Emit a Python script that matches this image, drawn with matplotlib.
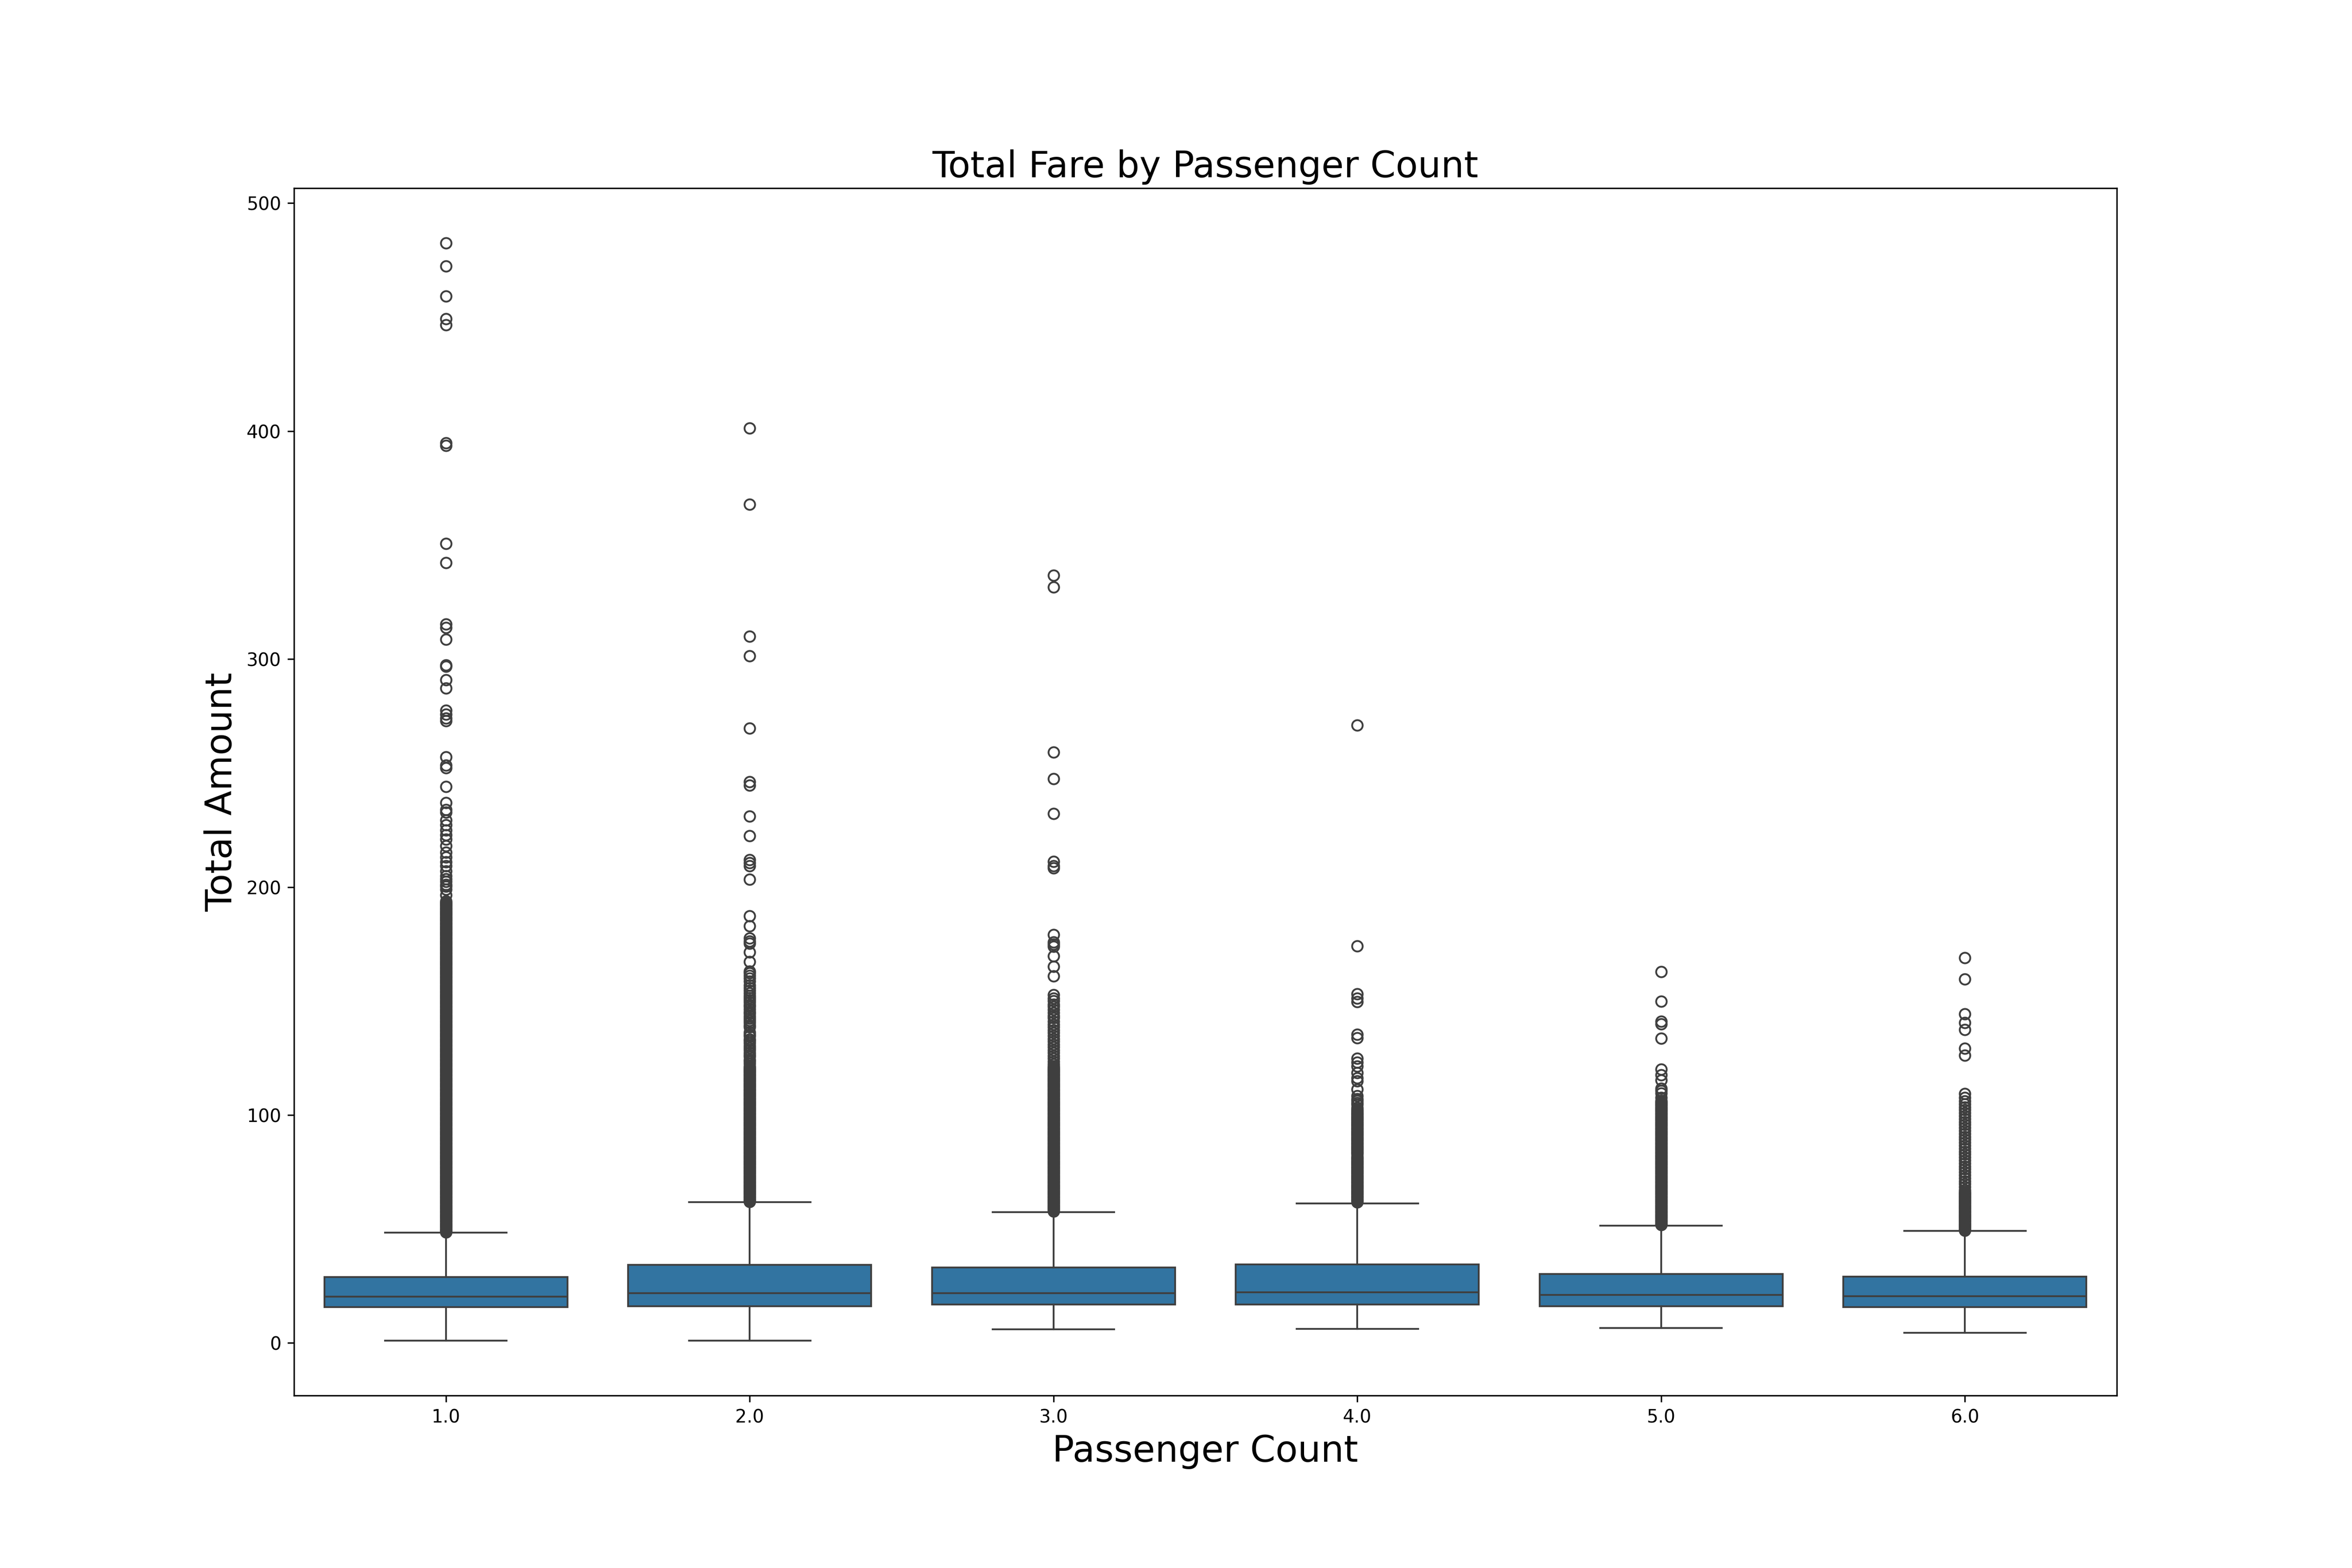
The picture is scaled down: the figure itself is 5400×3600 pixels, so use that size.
import matplotlib
matplotlib.use("Agg")
import matplotlib.pyplot as plt

categories = ["1.0", "2.0", "3.0", "4.0", "5.0", "6.0"]

q1 = [15.7, 16.0, 16.9, 16.8, 16.1, 15.8]
median = [20.3, 21.9, 21.9, 22.2, 21.0, 20.5]
q3 = [28.9, 34.3, 33.1, 34.5, 30.2, 29.0]
whisker_low = [1.0, 1.0, 6.0, 6.2, 6.5, 4.4]
whisker_high = [48.4, 61.7, 57.4, 61.2, 51.4, 49.1]

fliers_1 = [
    482.5, 472.3, 459.2, 449.3, 446.6, 394.8, 393.6, 350.7, 342.2, 315.4,
    313.7, 308.6, 297.3, 296.8, 290.9, 287.2, 277.4, 275.7, 274.1, 272.9,
    257.0, 253.5, 252.2, 244.0, 236.9, 233.9, 232.7, 229.3, 227.2, 224.9,
    222.8, 221.0, 218.1, 215.1, 213.0, 210.9, 209.2, 207.0, 204.8, 203.5,
    202.3, 201.1, 200.2, 199.0, 196.4,
    193.8, 193.3, 192.8, 192.3, 191.8, 191.3, 190.8, 190.3, 189.8, 189.3,
    188.8, 188.3, 187.8, 187.3, 186.8, 186.3, 185.8, 185.3, 184.8, 184.3,
    183.8, 183.3, 182.8, 182.3, 181.8, 181.3, 180.8, 180.3, 179.8, 179.3,
    178.8, 178.3, 177.8, 177.3, 176.8, 176.3, 175.8, 175.3, 174.8, 174.3,
    173.8, 173.3, 172.8, 172.3, 171.8, 171.3, 170.8, 170.3, 169.8, 169.3,
    168.8, 168.3, 167.8, 167.3, 166.8, 166.3, 165.8, 165.3, 164.8, 164.3,
    163.8, 163.3, 162.8, 162.3, 161.8, 161.3, 160.8, 160.3, 159.8, 159.3,
    158.8, 158.3, 157.8, 157.3, 156.8, 156.3, 155.8, 155.3, 154.8, 154.3,
    153.8, 153.3, 152.8, 152.3, 151.8, 151.3, 150.8, 150.3, 149.8, 149.3,
    148.8, 148.3, 147.8, 147.3, 146.8, 146.3, 145.8, 145.3, 144.8, 144.3,
    143.8, 143.3, 142.8, 142.3, 141.8, 141.3, 140.8, 140.3, 139.8, 139.3,
    138.8, 138.3, 137.8, 137.3, 136.8, 136.3, 135.8, 135.3, 134.8, 134.3,
    133.8, 133.3, 132.8, 132.3, 131.8, 131.3, 130.8, 130.3, 129.8, 129.3,
    128.8, 128.3, 127.8, 127.3, 126.8, 126.3, 125.8, 125.3, 124.8, 124.3,
    123.8, 123.3, 122.8, 122.3, 121.8, 121.3, 120.8, 120.3, 119.8, 119.3,
    118.8, 118.3, 117.8, 117.3, 116.8, 116.3, 115.8, 115.3, 114.8, 114.3,
    113.8, 113.3, 112.8, 112.3, 111.8, 111.3, 110.8, 110.3, 109.8, 109.3,
    108.8, 108.3, 107.8, 107.3, 106.8, 106.3, 105.8, 105.3, 104.8, 104.3,
    103.8, 103.3, 102.8, 102.3, 101.8, 101.3, 100.8, 100.3, 99.8, 99.3,
    98.8, 98.3, 97.8, 97.3, 96.8, 96.3, 95.8, 95.3, 94.8, 94.3,
    93.8, 93.3, 92.8, 92.3, 91.8, 91.3, 90.8, 90.3, 89.8, 89.3,
    88.8, 88.3, 87.8, 87.3, 86.8, 86.3, 85.8, 85.3, 84.8, 84.3,
    83.8, 83.3, 82.8, 82.3, 81.8, 81.3, 80.8, 80.3, 79.8, 79.3,
    78.8, 78.3, 77.8, 77.3, 76.8, 76.3, 75.8, 75.3, 74.8, 74.3,
    73.8, 73.3, 72.8, 72.3, 71.8, 71.3, 70.8, 70.3, 69.8, 69.3,
    68.8, 68.3, 67.8, 67.3, 66.8, 66.3, 65.8, 65.3, 64.8, 64.3,
    63.8, 63.3, 62.8, 62.3, 61.8, 61.3, 60.8, 60.3, 59.8, 59.3,
    58.8, 58.3, 57.8, 57.3, 56.8, 56.3, 55.8, 55.3, 54.8, 54.3,
    53.8, 53.3, 52.8, 52.3, 51.8, 51.3, 50.8, 50.3, 49.8, 49.3,
    48.8, 48.6,
]

fliers_2 = [
    401.3, 367.8, 309.9, 301.3, 269.7, 246.1, 244.7, 231.0, 222.5, 211.9,
    210.6, 209.3, 203.3, 187.3, 182.9, 177.5, 176.2, 175.2, 171.5, 167.3,
    163.1, 162.2, 161.2, 159.9, 158.7, 157.0, 155.8,
    154.6, 153.5, 152.4, 151.3, 150.5, 149.4, 148.3, 147.5, 146.4, 145.3,
    144.5, 143.4, 142.3, 141.5, 140.4, 139.3, 138.5, 136.3, 135.4, 134.5,
    133.3, 132.4, 131.5, 130.3, 129.4, 128.5, 127.3, 126.4, 125.5, 124.3,
    123.4, 122.5, 121.3,
    120.8, 120.3, 119.8, 119.3, 118.8, 118.3, 117.8, 117.3, 116.8, 116.3,
    115.8, 115.3, 114.8, 114.3, 113.8, 113.3, 112.8, 112.3, 111.8, 111.3,
    110.8, 110.3, 109.8, 109.3, 108.8, 108.3, 107.8, 107.3, 106.8, 106.3,
    105.8, 105.3, 104.8, 104.3, 103.8, 103.3, 102.8, 102.3, 101.8, 101.3,
    100.8, 100.3, 99.8, 99.3, 98.8, 98.3, 97.8, 97.3, 96.8, 96.3,
    95.8, 95.3, 94.8, 94.3, 93.8, 93.3, 92.8, 92.3, 91.8, 91.3,
    90.8, 90.3, 89.8, 89.3, 88.8, 88.3, 87.8, 87.3, 86.8, 86.3,
    85.8, 85.3, 84.8, 84.3, 83.8, 83.3, 82.8, 82.3, 81.8, 81.3,
    80.8, 80.3, 79.8, 79.3, 78.8, 78.3, 77.8, 77.3, 76.8, 76.3,
    75.8, 75.3, 74.8, 74.3, 73.8, 73.3, 72.8, 72.3, 71.8, 71.3,
    70.8, 70.3, 69.8, 69.3, 68.8, 68.3, 67.8, 67.3, 66.8, 66.3,
    65.8, 65.3, 64.8, 64.3, 63.8, 63.3, 62.8, 62.3, 62.0,
]

fliers_3 = [
    336.8, 331.6, 259.2, 247.4, 232.2, 211.2, 209.2, 208.4, 179.0, 175.9,
    174.9, 174.0, 169.8, 165.2, 161.0,
    152.8, 151.2, 150.0, 148.6, 147.5, 146.2, 144.8, 143.6, 142.5, 141.0,
    139.8, 138.6, 137.2, 136.0, 134.7, 133.5, 132.2, 131.0, 129.8, 128.5,
    127.3, 126.0, 124.8, 123.5, 122.3,
    121.3, 120.8, 120.3, 119.8, 119.3, 118.8, 118.3, 117.8, 117.3, 116.8,
    116.3, 115.8, 115.3, 114.8, 114.3, 113.8, 113.3, 112.8, 112.3, 111.8,
    111.3, 110.8, 110.3, 109.8, 109.3, 108.8, 108.3, 107.8, 107.3, 106.8,
    106.3, 105.8, 105.3, 104.8, 104.3, 103.8, 103.3, 102.8, 102.3, 101.8,
    101.3, 100.8, 100.3, 99.8, 99.3, 98.8, 98.3, 97.8, 97.3, 96.8,
    96.3, 95.8, 95.3, 94.8, 94.3, 93.8, 93.3, 92.8, 92.3, 91.8,
    91.3, 90.8, 90.3, 89.8, 89.3, 88.8, 88.3, 87.8, 87.3, 86.8,
    86.3, 85.8, 85.3, 84.8, 84.3, 83.8, 83.3, 82.8, 82.3, 81.8,
    81.3, 80.8, 80.3, 79.8, 79.3, 78.8, 78.3, 77.8, 77.3, 76.8,
    76.3, 75.8, 75.3, 74.8, 74.3, 73.8, 73.3, 72.8, 72.3, 71.8,
    71.3, 70.8, 70.3, 69.8, 69.3, 68.8, 68.3, 67.8, 67.3, 66.8,
    66.3, 65.8, 65.3, 64.8, 64.3, 63.8, 63.3, 62.8, 62.3, 61.8,
    61.3, 60.8, 60.3, 59.8, 59.3, 58.8, 58.3, 57.8,
]

fliers_4 = [
    271.0, 174.2, 153.0, 151.1, 149.7, 135.4, 133.8, 124.9, 123.0, 121.4,
    118.5, 116.3, 114.8, 111.3, 108.3, 107.1, 106.2,
    105.4, 104.5, 103.3, 102.4,
    101.8, 101.3, 100.8, 100.3, 99.8, 99.3, 98.8, 98.3, 97.8, 97.3,
    96.8, 96.3, 95.8, 95.3, 94.8, 94.3, 93.8, 93.3, 92.8, 92.3,
    91.8, 91.3, 90.8, 90.3, 89.8, 89.3, 88.8, 88.3, 87.8, 87.3,
    86.8, 86.3, 85.8, 85.3, 84.8, 84.3, 83.8, 83.3, 82.8, 81.8,
    81.3, 80.8, 80.3, 79.8, 79.3, 78.8, 78.3, 77.8, 77.3, 76.8,
    76.3, 75.8, 75.3, 74.8, 74.3, 73.8, 73.3, 72.8, 72.3, 71.8,
    71.3, 70.8, 70.3, 69.8, 69.3, 68.8, 68.3, 67.8, 67.3, 66.8,
    66.3, 65.8, 65.3, 64.8, 64.3, 63.8, 63.3, 62.8, 62.3, 61.8,
]

fliers_5 = [
    162.9, 149.9, 141.0, 140.0, 133.6, 120.1, 117.6, 115.3, 111.6, 110.6,
    109.6, 107.6,
    106.3, 105.8, 105.3, 104.8, 104.3, 103.8, 103.3, 102.8, 102.3, 101.8,
    101.3, 100.8, 100.3, 99.8, 99.3, 98.8, 98.3, 97.8, 97.3, 96.8,
    96.3, 95.8, 95.3, 94.8, 94.3, 93.8, 93.3, 92.8, 92.3, 91.8,
    91.3, 90.8, 90.3, 89.8, 89.3, 88.8, 88.3, 87.8, 87.3, 86.8,
    86.3, 85.8, 85.3, 84.8, 84.3, 83.8, 83.3, 82.8, 82.3, 81.8,
    81.3, 80.8, 80.3, 79.8, 79.3, 78.8, 78.3, 77.8, 77.3, 76.8,
    76.3, 75.8, 75.3, 74.8, 74.3, 73.8, 73.3, 72.8, 72.3, 71.8,
    71.3, 70.8, 70.3, 69.8, 69.3, 68.8, 68.3, 67.8, 67.3, 66.8,
    66.3, 65.8, 65.3, 64.8, 64.3, 63.8, 63.3, 62.8, 62.3, 61.8,
    61.3, 60.8, 60.3, 59.8, 59.3, 58.8, 58.3, 57.8, 57.3, 56.8,
    56.3, 55.8, 55.3, 54.8, 54.3, 53.8, 53.3, 52.8, 52.3, 51.8,
]

fliers_6 = [
    169.0, 159.5, 144.3, 140.5, 137.5, 129.3, 126.2, 109.4, 107.6, 106.0,
    104.8, 103.5, 102.2, 100.9, 99.6, 98.3, 97.0, 95.7, 94.4, 93.1,
    91.8, 90.5, 89.2, 87.9, 86.6, 85.3, 84.0, 82.7, 81.4, 80.1,
    78.8, 77.5, 76.2, 74.9, 73.6, 72.3, 71.0, 69.7, 68.4, 67.1,
    66.3, 65.8, 65.3, 64.8, 64.3, 63.8, 63.3, 62.8, 62.3, 61.8,
    61.3, 60.8, 60.3, 59.8, 59.3, 58.8, 58.3, 57.8, 57.3, 56.8,
    56.3, 55.8, 55.3, 54.8, 54.3, 53.8, 53.3, 52.8, 52.3, 51.8,
    51.3, 50.8, 50.3, 49.8, 49.3,
]

fliers = [fliers_1, fliers_2, fliers_3, fliers_4, fliers_5, fliers_6]

stats = []
for i, cat in enumerate(categories):
    stats.append(dict(label=cat, q1=q1[i], med=median[i], q3=q3[i],
                      whislo=whisker_low[i], whishi=whisker_high[i],
                      fliers=fliers[i]))

LC = "#3f3f3f"
LW = 1.0
BOX_COLOR = "#3274a1"

fig, ax = plt.subplots(figsize=(18, 12), dpi=300)
positions = list(range(len(categories)))
ax.bxp(stats, positions=positions, widths=0.8, capwidths=0.4,
       patch_artist=True, showfliers=True,
       boxprops=dict(facecolor=BOX_COLOR, edgecolor=LC, linewidth=LW),
       whiskerprops=dict(color=LC, linewidth=LW),
       capprops=dict(color=LC, linewidth=LW),
       medianprops=dict(color=LC, linewidth=LW),
       flierprops=dict(marker="o", markersize=5.8, markerfacecolor="none",
                       markeredgecolor=LC, markeredgewidth=LW,
                       linestyle="none"))
ax.set_xlim(-0.5, len(categories) - 0.5)
ax.set_xticks(positions)
ax.set_xticklabels(categories)
ax.set_title("Total Fare by Passenger Count", fontsize=20)
ax.set_xlabel("Passenger Count", fontsize=20)
ax.set_ylabel("Total Amount", fontsize=20)

fig.savefig("out.png", dpi=300)
